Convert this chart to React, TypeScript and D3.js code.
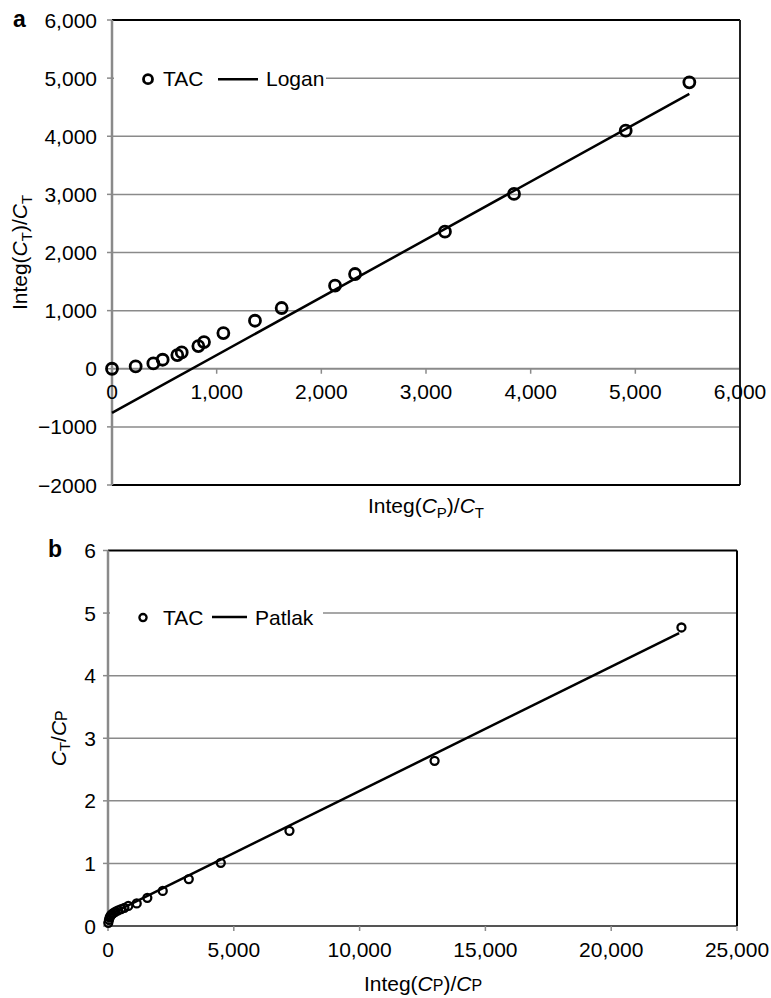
import React from 'react'
import * as d3 from 'd3'

// panel a: Logan plot
const loganX = [0, 226, 395, 484, 624, 666, 825, 879, 1064, 1366, 1621, 2131, 2322, 3181, 3841, 4908, 5516]
const loganY = [0, 40, 91, 155, 236, 281, 390, 459, 614, 826, 1045, 1429, 1630, 2358, 3007, 4096, 4928]
const loganFitX = [0, 5516]
const loganFitY = [-760, 4728]
const loganYTicks = [-2000, -1000, 0, 1000, 2000, 3000, 4000, 5000, 6000]
const loganYLabels = ['\u22122000', '\u22121000', '0', '1,000', '2,000', '3,000', '4,000', '5,000', '6,000']
const loganXTicks = [0, 1000, 2000, 3000, 4000, 5000, 6000]
const loganXLabels = ['0', '1,000', '2,000', '3,000', '4,000', '5,000', '6,000']

// panel b: Patlak plot
const patlakX = [12, 40, 70, 110, 160, 220, 300, 400, 520, 650, 808, 1141, 1563, 2176, 3210, 4483, 7212, 12980, 22792]
const patlakY = [0.05, 0.1, 0.14, 0.17, 0.19, 0.21, 0.23, 0.25, 0.27, 0.29, 0.32, 0.36, 0.45, 0.56, 0.75, 1.01, 1.52, 2.64, 4.77]
const patlakFitX = [0, 22700]
const patlakFitY = [0.17, 4.68]
const patlakYTicks = [0, 1, 2, 3, 4, 5, 6]
const patlakYLabels = ['0', '1', '2', '3', '4', '5', '6']
const patlakXTicks = [0, 5000, 10000, 15000, 20000, 25000]
const patlakXLabels = ['0', '5,000', '10,000', '15,000', '20,000', '25,000']

const FONT = '"Liberation Sans", Arial, Helvetica, sans-serif'
const FS = 21
const GRID = '#8a8a8a'

const LoganPanel = () => {
  const x = d3.scaleLinear().domain([0, 6000]).range([112, 740])
  const y = d3.scaleLinear().domain([-2000, 6000]).range([485, 20])
  const line = d3.line<number>().x((d, i) => x(loganFitX[i])).y(d => y(d))
  return (
    <g>
      {loganYTicks.filter(t => t !== -2000 && t !== 0 && t !== 6000).map(t => (
        <line key={t} x1={x(0)} x2={x(6000)} y1={y(t)} y2={y(t)} stroke={GRID} strokeWidth={1.5} />
      ))}
      {loganYTicks.map(t => (
        <line key={'yt' + t} x1={x(0) - 5} x2={x(0)} y1={y(t)} y2={y(t)} stroke={GRID} strokeWidth={1.5} />
      ))}
      {/* x axis at y = 0 */}
      <line x1={x(0)} x2={x(6000)} y1={y(0)} y2={y(0)} stroke={GRID} strokeWidth={2} />
      {loganXTicks.map(t => (
        <line key={'xt' + t} x1={x(t)} x2={x(t)} y1={y(0)} y2={y(0) + 5} stroke={GRID} strokeWidth={1.5} />
      ))}
      {/* frame */}
      <line x1={x(0)} x2={x(6000)} y1={y(6000)} y2={y(6000)} stroke="#000" strokeWidth={2} />
      <line x1={x(6000)} x2={x(6000)} y1={y(6000)} y2={y(-2000)} stroke="#222" strokeWidth={2} />
      <line x1={x(0)} x2={x(6000)} y1={y(-2000)} y2={y(-2000)} stroke="#000" strokeWidth={2} />
      <line x1={x(0)} x2={x(0)} y1={y(6000)} y2={y(-2000)} stroke={GRID} strokeWidth={2.5} />
      {/* legend */}
      <rect x={x(0) + 2} y={y(5000) - 14} width={212} height={28} fill="#fff" />
      <circle cx={148} cy={y(5000) + 1} r={4.5} fill="#fff" stroke="#000" strokeWidth={2.8} />
      <text x={163} y={y(5000) + 8} fontSize={FS} fontFamily={FONT}>TAC</text>
      <line x1={218} x2={258} y1={y(5000) + 1} y2={y(5000) + 1} stroke="#000" strokeWidth={2.5} />
      <text x={266} y={y(5000) + 8} fontSize={FS} fontFamily={FONT}>Logan</text>
      {/* fit line and data */}
      <path d={line(loganFitY) || ''} fill="none" stroke="#000" strokeWidth={2.5} />
      {loganX.map((v, i) => (
        <circle key={i} cx={x(v)} cy={y(loganY[i])} r={5.5} fill="none" stroke="#000" strokeWidth={2.8} />
      ))}
      {/* tick labels */}
      {loganYTicks.map((t, i) => (
        <text key={'yl' + t} x={97} y={y(t) + 7.5} fontSize={FS} fontFamily={FONT} textAnchor="end">{loganYLabels[i]}</text>
      ))}
      {loganXTicks.map((t, i) => (
        <text key={'xl' + t} x={x(t)} y={399} fontSize={FS} fontFamily={FONT} textAnchor="middle">{loganXLabels[i]}</text>
      ))}
      <text x={13} y={27} fontSize={23} fontWeight="bold" fontFamily={FONT}>a</text>
      <text x={426} y={513} fontSize={FS} fontFamily={FONT} textAnchor="middle">
        Integ(<tspan fontStyle="italic">C</tspan><tspan fontSize={15} dy={5}>P</tspan><tspan dy={-5}>)/</tspan><tspan fontStyle="italic">C</tspan><tspan fontSize={15} dy={5}>T</tspan>
      </text>
      <text transform={`translate(27,${(y(6000) + y(-2000)) / 2}) rotate(-90)`} fontSize={FS} fontFamily={FONT} textAnchor="middle">
        Integ(<tspan fontStyle="italic">C</tspan><tspan fontSize={15} dy={5}>T</tspan><tspan dy={-5}>)/</tspan><tspan fontStyle="italic">C</tspan><tspan fontSize={15} dy={5}>T</tspan>
      </text>
    </g>
  )
}

const PatlakPanel = () => {
  const x = d3.scaleLinear().domain([0, 25000]).range([108, 737])
  const y = d3.scaleLinear().domain([0, 6]).range([926, 550.5])
  const line = d3.line<number>().x((d, i) => x(patlakFitX[i])).y(d => y(d))
  return (
    <g>
      {patlakYTicks.filter(t => t !== 0 && t !== 6).map(t => (
        <line key={t} x1={x(0)} x2={x(25000)} y1={y(t)} y2={y(t)} stroke={GRID} strokeWidth={1.5} />
      ))}
      {patlakYTicks.map(t => (
        <line key={'yt' + t} x1={x(0) - 5} x2={x(0)} y1={y(t)} y2={y(t)} stroke={GRID} strokeWidth={1.5} />
      ))}
      <line x1={x(0)} x2={x(25000)} y1={y(0)} y2={y(0)} stroke="#555" strokeWidth={2} />
      {patlakXTicks.map(t => (
        <line key={'xt' + t} x1={x(t)} x2={x(t)} y1={y(0)} y2={y(0) + 5} stroke={GRID} strokeWidth={1.5} />
      ))}
      <line x1={x(0)} x2={x(25000)} y1={y(6)} y2={y(6)} stroke="#000" strokeWidth={2} />
      <line x1={x(25000)} x2={x(25000)} y1={y(6)} y2={y(0)} stroke="#000" strokeWidth={2} />
      <line x1={x(0)} x2={x(0)} y1={y(6)} y2={y(0)} stroke={GRID} strokeWidth={2.5} />
      {/* legend */}
      <rect x={x(0) + 2} y={y(5) - 14} width={213} height={28} fill="#fff" />
      <circle cx={143} cy={y(5) + 4.5} r={3.6} fill="#fff" stroke="#000" strokeWidth={2.3} />
      <text x={163} y={y(5) + 11.5} fontSize={FS} fontFamily={FONT}>TAC</text>
      <line x1={212} x2={247} y1={y(5) + 4} y2={y(5) + 4} stroke="#000" strokeWidth={2.5} />
      <text x={255} y={y(5) + 11.5} fontSize={FS} fontFamily={FONT}>Patlak</text>
      <path d={line(patlakFitY) || ''} fill="none" stroke="#000" strokeWidth={2.5} />
      {patlakX.map((v, i) => (
        <circle key={i} cx={x(v)} cy={y(patlakY[i])} r={4} fill="none" stroke="#000" strokeWidth={2.3} />
      ))}
      {patlakYTicks.map((t, i) => (
        <text key={'yl' + t} x={96} y={y(t) + 7.5} fontSize={FS} fontFamily={FONT} textAnchor="end">{patlakYLabels[i]}</text>
      ))}
      {patlakXTicks.map((t, i) => (
        <text key={'xl' + t} x={x(t)} y={957} fontSize={FS} fontFamily={FONT} textAnchor="middle">{patlakXLabels[i]}</text>
      ))}
      <text x={48} y={557} fontSize={23} fontWeight="bold" fontFamily={FONT}>b</text>
      <text x={423} y={991} fontSize={FS} fontFamily={FONT} textAnchor="middle">
        Integ(<tspan fontStyle="italic">C</tspan><tspan fontSize={16}>P</tspan>)/<tspan fontStyle="italic">C</tspan><tspan fontSize={16}>P</tspan>
      </text>
      <text transform={`translate(66,${(y(6) + y(0)) / 2}) rotate(-90)`} fontSize={FS} fontFamily={FONT} textAnchor="middle">
        <tspan fontStyle="italic">C</tspan><tspan fontSize={15} dy={4}>T</tspan><tspan dy={-4}>/</tspan><tspan fontStyle="italic">C</tspan><tspan fontSize={16} dy={1}>P</tspan>
      </text>
    </g>
  )
}

const App = () => (
  <svg width={771} height={998} style={{ position: 'absolute', left: 0, top: 0, background: '#fff' }}>
    <rect width={771} height={998} fill="#fff" />
    <LoganPanel />
    <PatlakPanel />
  </svg>
)

export default App
